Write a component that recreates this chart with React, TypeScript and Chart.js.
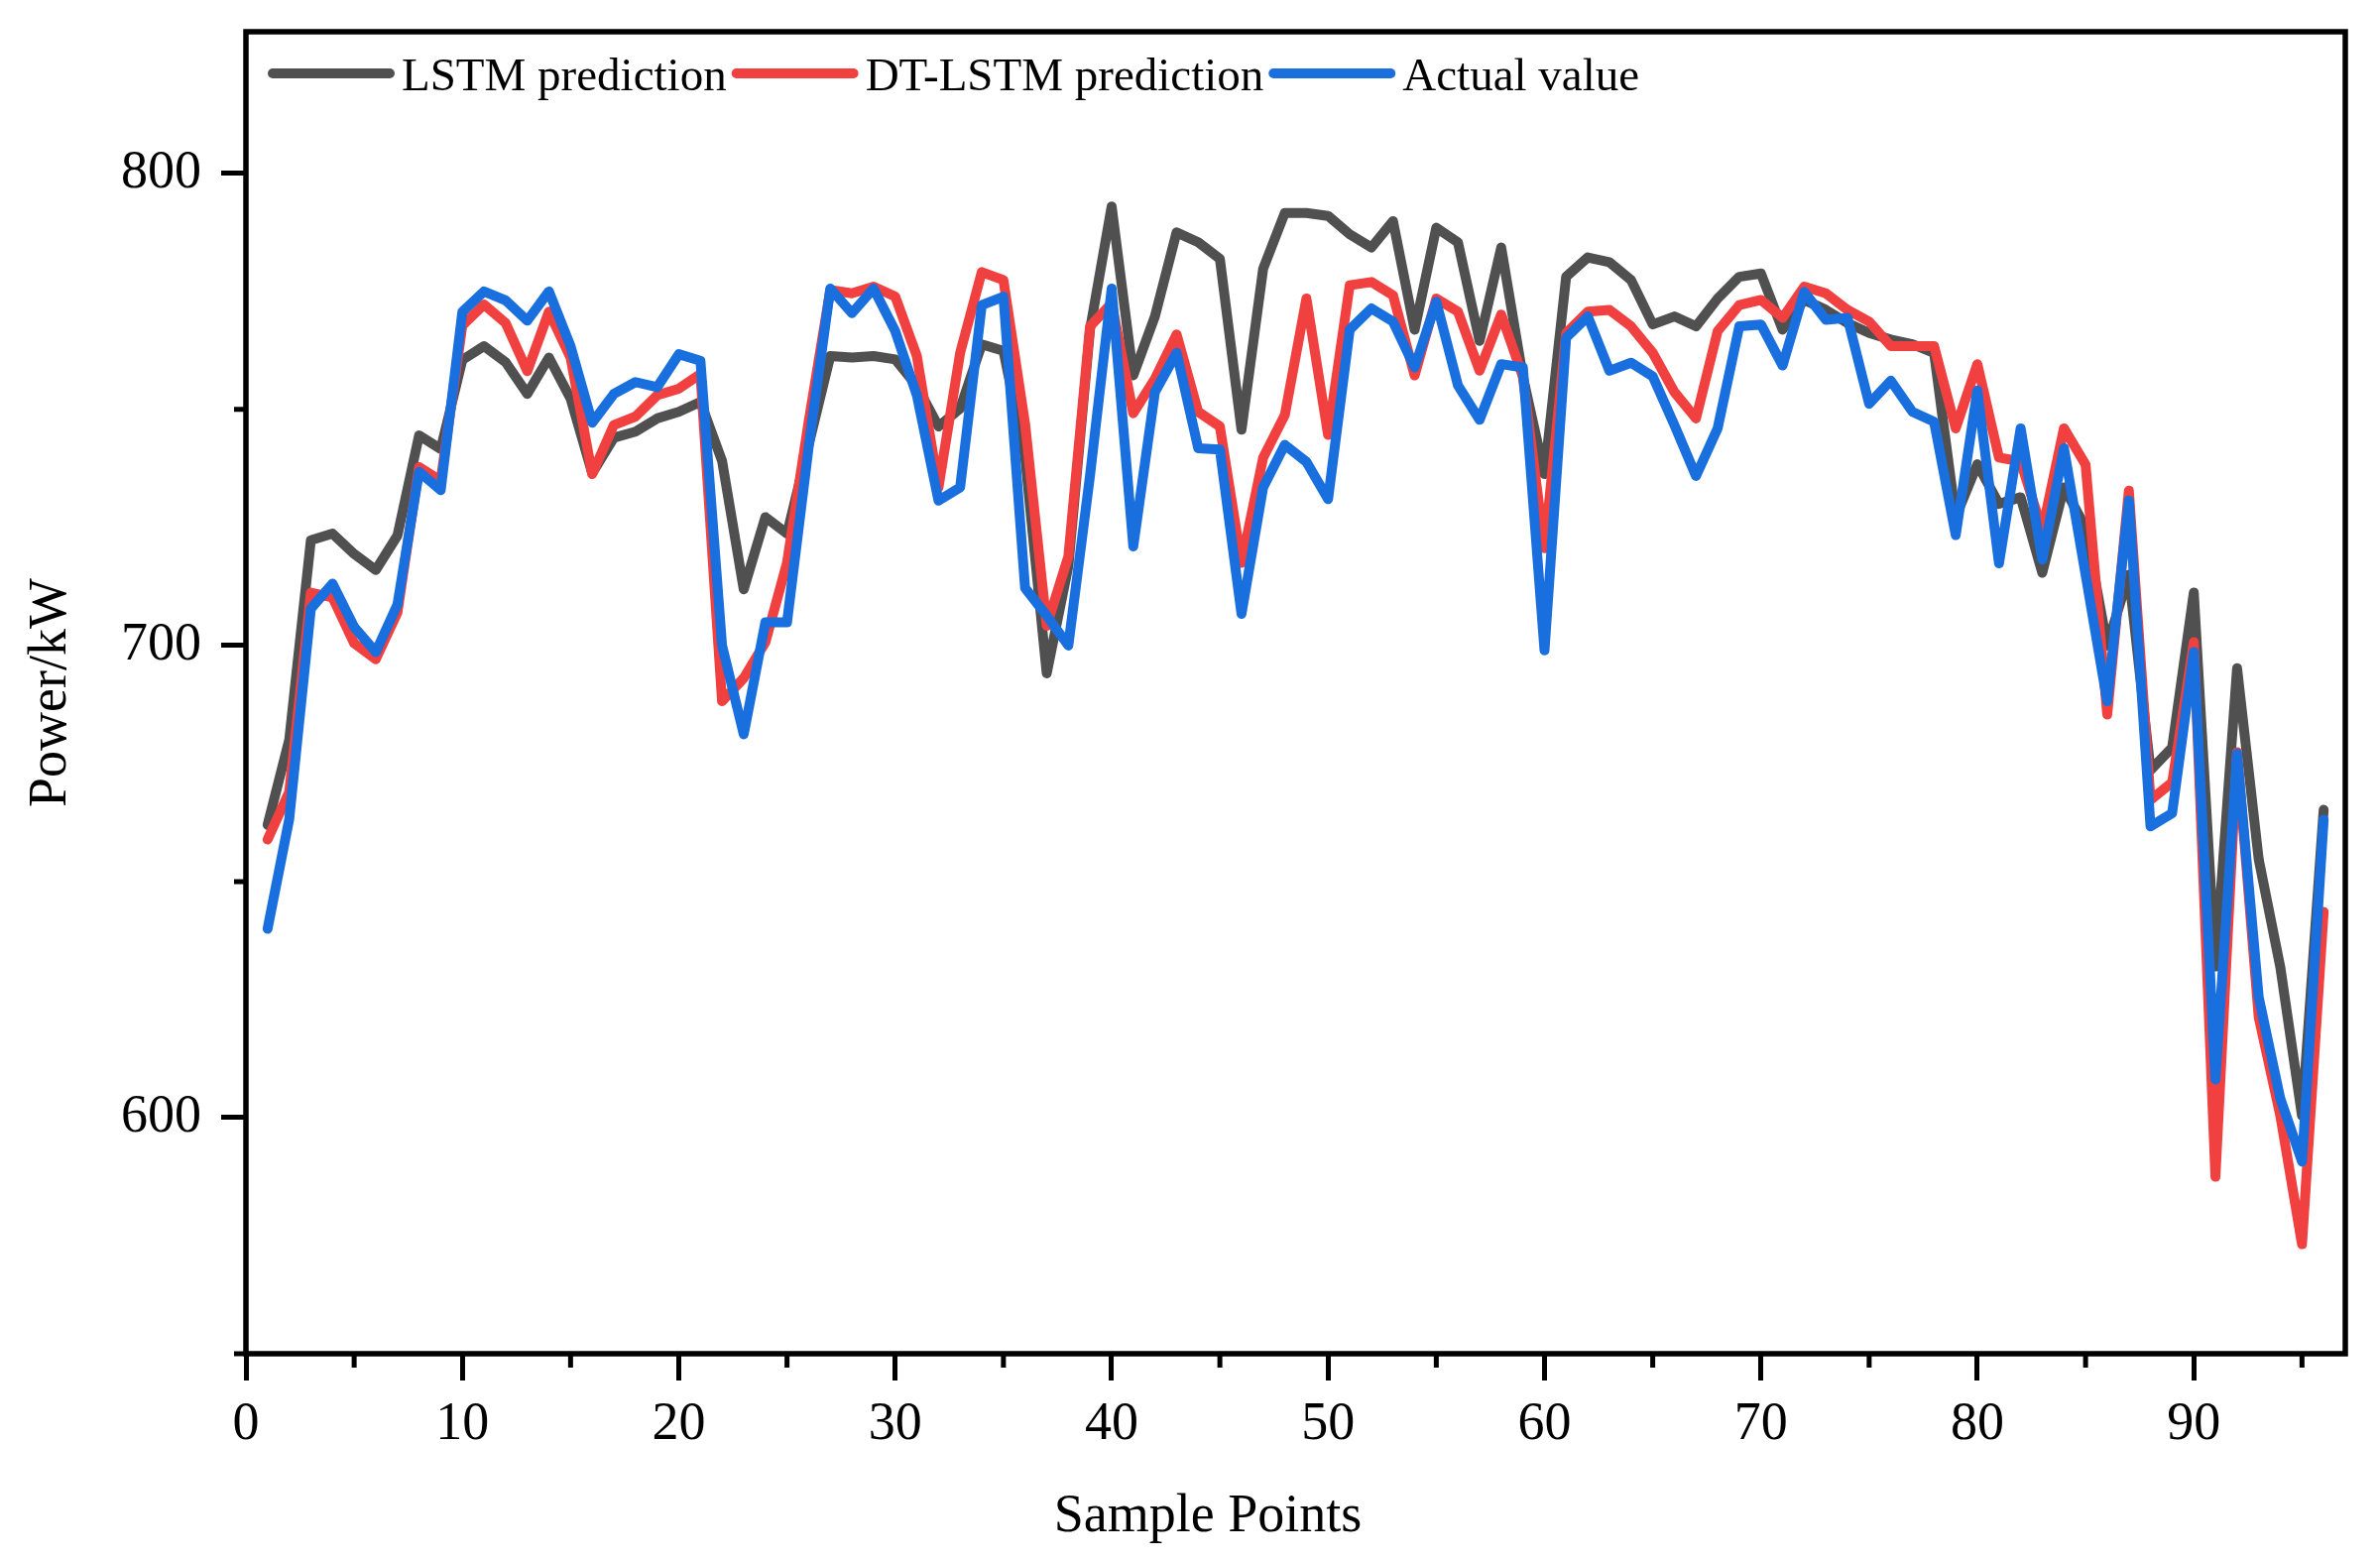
import { useEffect, useRef } from "react"
import { Chart, registerables } from "chart.js"

Chart.register(...registerables)

// x: sample index
const samplePoints = [
  1, 2, 3, 4, 5, 6, 7, 8, 9, 10, 11, 12, 13, 14, 15, 16, 17, 18, 19, 20,
  21, 22, 23, 24, 25, 26, 27, 28, 29, 30, 31, 32, 33, 34, 35, 36, 37, 38, 39, 40,
  41, 42, 43, 44, 45, 46, 47, 48, 49, 50, 51, 52, 53, 54, 55, 56, 57, 58, 59, 60,
  61, 62, 63, 64, 65, 66, 67, 68, 69, 70, 71, 72, 73, 74, 75, 76, 77, 78, 79, 80,
  81, 82, 83, 84, 85, 86, 87, 88, 89, 90, 91, 92, 93, 94, 95, 96,
]

const lstmPrediction = [
  662, 680, 722.3, 723.7, 719.4, 716, 723.3, 744.5, 741.6, 760.5,
  763.4, 760, 753.3, 761, 752.3, 736.5, 744, 745.3, 748.1, 749.5,
  751.6, 739.1, 711.9, 727.2, 723.7, 742.5, 761.3, 761, 761.3, 760.6,
  755, 746.4, 750.2, 763.8, 762.4, 740, 694.1, 716.8, 766.9, 793,
  757.2, 769.7, 787.5, 785.4, 781.9, 745.7, 779.8, 791.6, 791.6, 791,
  787.1, 784.3, 789.9, 766.9, 788.5, 785.4, 764.5, 784.3, 757, 736.3,
  778.1, 782.2, 781.2, 777.4, 768, 769.7, 767.6, 773.5, 778.1, 778.8,
  766.9, 773.2, 771.1, 768.3, 766.2, 764.8, 763.8, 762, 727.2, 738.4,
  730, 731.4, 715.4, 733.5, 725, 700, 715, 673.6, 678.4, 711.2,
  632, 695.2, 654.7, 631.8, 600.4, 665.2,
]

const dtLstmPrediction = [
  658.9, 669, 711.2, 710.2, 700.5, 697.1, 707, 737.8, 734.9, 767.8,
  772.2, 768.3, 758.1, 770.7, 761, 736.3, 746.7, 748.5, 753, 754.4,
  757.5, 688.2, 693.1, 700.7, 717.5, 747.4, 775.3, 774.6, 776, 773.9,
  761.3, 733.5, 762, 779.1, 777.4, 747, 704.2, 718.9, 767.6, 772.5,
  749.2, 756.5, 765.9, 749.5, 746.4, 717.5, 739.8, 748.8, 773.5, 744.6,
  776.3, 777, 774.2, 757.2, 773.5, 770.7, 758.2, 770.1, 757, 720.6,
  766.2, 770.7, 771.1, 767.6, 762, 753.7, 748.1, 766.6, 772.1, 773.2,
  769.4, 776, 774.6, 771.1, 768.6, 763.4, 763.4, 763.4, 746, 759.6,
  739.8, 739, 724.4, 746, 738.3, 685.4, 732.8, 667.3, 671, 700.7,
  587.5, 677.4, 621.3, 600.4, 573.2, 643.6,
]

const actualValue = [
  640, 663.2, 707.8, 713.1, 703.9, 698.6, 708.7, 736.8, 732.9, 770.7,
  775, 773.1, 768.8, 775, 763.4, 747.2, 753.3, 755.8, 754.7, 761.7,
  760.3, 700, 681.2, 704.9, 704.9, 742, 775.6, 770.4, 775.6, 766.6,
  753, 730.7, 733.5, 772.1, 773.9, 712.2, 706.3, 700, 736, 775.6,
  721, 753.7, 762, 741.8, 741.5, 706.7, 733.5, 742.5, 738.9, 731,
  766.9, 771.4, 768.6, 758.9, 772.8, 755.1, 747.8, 759.6, 758.9, 699,
  765.2, 769.7, 758.2, 759.9, 757, 746.7, 735.9, 746, 767.6, 768,
  759.3, 774.9, 769, 769.4, 751.2, 756.1, 749.5, 747.4, 723.4, 754,
  717.4, 746, 718.2, 741.8, 715, 688.2, 730.7, 661.7, 664.5, 698.6,
  608.1, 677.1, 625.5, 604, 590.7, 663.1,
]

const seriesNames = ["LSTM prediction", "DT-LSTM prediction", "Actual value"]
const seriesColors = ["#505050", "#f04040", "#1a6fdf"]

const xMinorTicks = [5, 15, 25, 35, 45, 55, 65, 75, 85, 95]
const yMinorTicks = [550, 650, 750]

const FONT = "'Liberation Serif', 'Times New Roman', serif"

// frame, minor ticks, x title and the in-plot legend
const framePlugin = {
  id: "frame",
  afterDatasetsDraw(chart: any) {
    const { ctx, chartArea: a, scales } = chart
    ctx.save()
    ctx.strokeStyle = "#000"
    ctx.lineWidth = 5.5
    ctx.strokeRect(a.left, a.top, a.right - a.left, a.bottom - a.top)

    ctx.lineWidth = 5
    ctx.beginPath()
    xMinorTicks.forEach((v) => {
      const x = scales.x.getPixelForValue(v)
      ctx.moveTo(x, a.bottom)
      ctx.lineTo(x, a.bottom + 14)
    })
    yMinorTicks.forEach((v) => {
      const y = scales.y.getPixelForValue(v)
      ctx.moveTo(a.left, y)
      ctx.lineTo(a.left - 12, y)
    })
    ctx.stroke()

    // x axis title, sits a little left of the plot centre
    ctx.fillStyle = "#000"
    ctx.font = `54px ${FONT}`
    ctx.textAlign = "center"
    ctx.textBaseline = "middle"
    ctx.fillText("Sample Points", 1218, 1530)

    // legend
    ctx.font = `47px ${FONT}`
    ctx.textBaseline = "alphabetic"
    ctx.textAlign = "left"
    let x = a.left + 22
    const lineY = 74
    chart.data.datasets.forEach((ds: any) => {
      ctx.strokeStyle = ds.borderColor
      ctx.lineWidth = 10
      ctx.lineCap = "round"
      ctx.beginPath()
      ctx.moveTo(x + 5, lineY)
      ctx.lineTo(x + 123, lineY)
      ctx.stroke()
      ctx.fillStyle = "#000"
      ctx.fillText(ds.label, x + 135, 91)
      x += 135 + ctx.measureText(ds.label).width + 5
    })
    ctx.restore()
  },
}

export default function App() {
  const chartRef = useRef<HTMLCanvasElement>(null)
  const chartInstance = useRef<Chart | null>(null)

  useEffect(() => {
    document.body.style.margin = "0"
    if (chartRef.current) {
      if (chartInstance.current) {
        chartInstance.current.destroy()
      }

      const series = [lstmPrediction, dtLstmPrediction, actualValue]
      const datasets = series.map((values, i) => ({
        label: seriesNames[i],
        data: samplePoints.map((p, j) => ({ x: p, y: values[j] })),
        borderColor: seriesColors[i],
        backgroundColor: seriesColors[i],
        borderWidth: 10,
        borderCapStyle: "round" as const,
        borderJoinStyle: "round" as const,
        pointRadius: 0,
        tension: 0,
        order: 2 - i,
      }))

      const ctx = chartRef.current.getContext("2d")
      if (ctx) {
        chartInstance.current = new Chart(ctx, {
          type: "line",
          data: { datasets },
          options: {
            responsive: true,
            maintainAspectRatio: false,
            animation: false,
            layout: { padding: { top: 32, right: 35, left: 0, bottom: 0 } },
            plugins: {
              legend: { display: false },
              tooltip: { enabled: false },
            },
            scales: {
              x: {
                type: "linear",
                min: 0,
                max: 97,
                afterFit: (scale: any) => {
                  scale.height = 209
                },
                border: { display: false },
                grid: {
                  drawOnChartArea: false,
                  drawTicks: true,
                  tickLength: 27,
                  tickWidth: 5,
                  tickColor: "#000",
                },
                ticks: {
                  stepSize: 10,
                  includeBounds: false,
                  autoSkip: false,
                  maxRotation: 0,
                  padding: 12,
                  color: "#000",
                  font: { family: FONT, size: 54 },
                },
                title: { display: false },
              },
              y: {
                min: 550,
                max: 830,
                afterFit: (scale: any) => {
                  scale.width = 248
                  scale.paddingTop = 0
                  scale.paddingBottom = 0
                },
                border: { display: false },
                grid: {
                  drawOnChartArea: false,
                  drawTicks: true,
                  tickLength: 25,
                  tickWidth: 5,
                  tickColor: "#000",
                },
                ticks: {
                  stepSize: 100,
                  includeBounds: false,
                  padding: 20,
                  color: "#000",
                  font: { family: FONT, size: 54 },
                },
                title: {
                  display: true,
                  text: "Power/kW",
                  color: "#000",
                  font: { family: FONT, size: 54 },
                  padding: { top: 19, bottom: 19 },
                },
              },
            },
          },
          plugins: [framePlugin],
        })
      }
    }

    return () => {
      if (chartInstance.current) {
        chartInstance.current.destroy()
        chartInstance.current = null
      }
    }
  }, [])

  return (
    <div style={{ position: "fixed", left: 0, top: 0, width: "100vw", height: "100vh", background: "#fff" }}>
      <canvas ref={chartRef} />
    </div>
  )
}
